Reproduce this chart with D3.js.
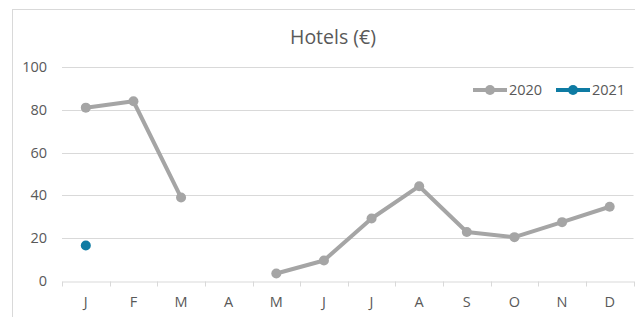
<!DOCTYPE html>
<html>
<head>
<meta charset="utf-8">
<script src="https://cdn.jsdelivr.net/npm/d3@7"></script>
<style>
  body { margin: 0; background: #fff; }
  text { font-family: "Open Sans", sans-serif; fill: #595959; }
</style>
</head>
<body>
<div id="chart"></div>
<script>
// data
var months = ["J", "F", "M", "A", "M", "J", "J", "A", "S", "O", "N", "D"];
var values2020 = [81, 84, 39, null, 3.5, 9.6, 29.2, 44.3, 22.9, 20.5, 27.5, 34.7];
var values2021 = [16.6, null, null, null, null, null, null, null, null, null, null, null];
var yTicks = [0, 20, 40, 60, 80, 100];
var seriesNames = ["2020", "2021"];
var colors = ["#a5a5a5", "#0e7ba3"];

var width = 635;
var height = 317;
var margins = { top: 67, bottom: 36, left: 62, right: 1.5 };

var svg = d3.select("#chart")
  .append("svg")
  .attr("width", width)
  .attr("height", height);

// chart area border (right and bottom run off the picture)
svg.append("rect")
  .attr("x", 12.5).attr("y", 9.5)
  .attr("width", 640).attr("height", 320)
  .attr("fill", "none")
  .attr("stroke", "#d9d9d9");

var x = d3.scaleBand()
  .domain(d3.range(months.length))
  .range([margins.left, width - margins.right]);

var y = d3.scaleLinear()
  .domain([0, 100])
  .range([height - margins.bottom, margins.top]);

// gridlines
svg.append("g")
  .selectAll("line")
  .data(yTicks.slice(1))
  .enter()
  .append("line")
  .attr("x1", margins.left).attr("x2", width - margins.right)
  .attr("y1", d => Math.round(y(d)) + 0.5).attr("y2", d => Math.round(y(d)) + 0.5)
  .attr("stroke", "#d9d9d9");

// y labels
svg.append("g")
  .selectAll("text")
  .data(yTicks)
  .enter()
  .append("text")
  .attr("x", 47)
  .attr("y", d => y(d))
  .attr("dy", "0.35em")
  .attr("text-anchor", "end")
  .style("font-size", "14.5px")
  .text(d => d);

// x axis
var xAxis = d3.axisBottom(x)
  .tickFormat(i => months[i])
  .tickSize(0)
  .tickPadding(15);

var gx = svg.append("g")
  .attr("transform", `translate(0, ${Math.round(y(0)) + 0.5})`)
  .call(xAxis);
gx.select(".domain").attr("stroke", "#d9d9d9");
gx.selectAll("text")
  .style("font-family", "'Open Sans', sans-serif")
  .style("font-size", "14.5px")
  .attr("fill", "#595959");

// little ticks between categories
gx.selectAll(".sep")
  .data(d3.range(months.length + 1))
  .enter()
  .append("line")
  .attr("x1", i => Math.round(margins.left + i * x.step()) + 0.5)
  .attr("x2", i => Math.round(margins.left + i * x.step()) + 0.5)
  .attr("y1", 0).attr("y2", 5)
  .attr("stroke", "#d9d9d9");

// series
var allSeries = [values2020, values2021];
var line = d3.line()
  .defined(d => d != null)
  .x((d, i) => x(i) + x.bandwidth() / 2)
  .y(d => y(d));

allSeries.forEach(function(vals, s) {
  svg.append("path")
    .datum(vals)
    .attr("d", line)
    .attr("fill", "none")
    .attr("stroke", colors[s])
    .attr("stroke-width", 4)
    .attr("stroke-linejoin", "round");

  svg.append("g")
    .selectAll("circle")
    .data(vals.map((v, i) => ({ v: v, i: i })).filter(d => d.v != null))
    .enter()
    .append("circle")
    .attr("cx", d => x(d.i) + x.bandwidth() / 2)
    .attr("cy", d => y(d.v))
    .attr("r", 5)
    .attr("fill", colors[s]);
});

// title
svg.append("text")
  .attr("x", 333)
  .attr("y", 43.5)
  .attr("text-anchor", "middle")
  .style("font-size", "19.5px")
  .text("Hotels (€)");

// legend
var legendX = [473, 556];
seriesNames.forEach(function(name, s) {
  var g = svg.append("g").attr("transform", `translate(${legendX[s]}, 90)`);
  g.append("line")
    .attr("x1", 0).attr("x2", 34)
    .attr("stroke", colors[s])
    .attr("stroke-width", 4);
  g.append("circle")
    .attr("cx", 17).attr("r", 5)
    .attr("fill", colors[s]);
  g.append("text")
    .attr("x", 36)
    .attr("dy", "0.35em")
    .style("font-size", "14.5px")
    .text(name);
});
</script>
</body>
</html>
